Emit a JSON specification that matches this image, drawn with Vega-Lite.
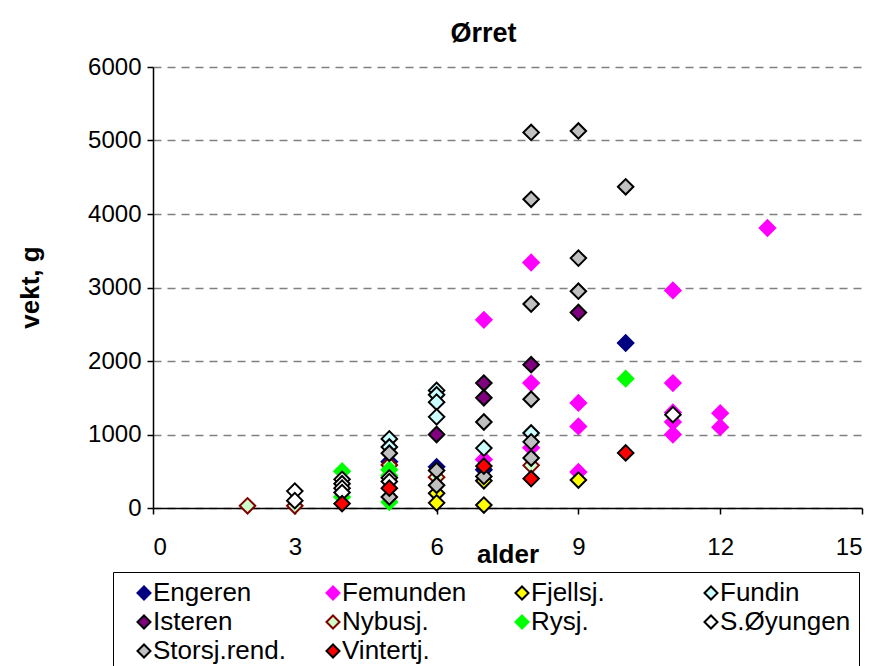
{
  "$schema": "https://vega.github.io/schema/vega-lite/v6.json",
  "width": 709,
  "height": 441,
  "autosize": {"type": "none"},
  "padding": {"left": 153, "top": 67, "right": 25, "bottom": 158},
  "background": "white",
  "title": {"text": "Ørret", "font": "Liberation Sans", "fontSize": 27, "fontWeight": "bold", "color": "black", "dx": -24, "offset": 7},
  "config": {
    "view": {"stroke": null},
    "font": "Liberation Sans"
  },
  "data": {
    "values": [
      {"s": "Engeren", "alder": 5, "vekt": 630},
      {"s": "Engeren", "alder": 6, "vekt": 560},
      {"s": "Engeren", "alder": 7, "vekt": 520},
      {"s": "Engeren", "alder": 10, "vekt": 2245},
      {"s": "Femunden", "alder": 7, "vekt": 2560},
      {"s": "Femunden", "alder": 7, "vekt": 660},
      {"s": "Femunden", "alder": 8, "vekt": 3340},
      {"s": "Femunden", "alder": 8, "vekt": 1700},
      {"s": "Femunden", "alder": 8, "vekt": 820},
      {"s": "Femunden", "alder": 9, "vekt": 1430},
      {"s": "Femunden", "alder": 9, "vekt": 1110},
      {"s": "Femunden", "alder": 9, "vekt": 490},
      {"s": "Femunden", "alder": 11, "vekt": 2960},
      {"s": "Femunden", "alder": 11, "vekt": 1700},
      {"s": "Femunden", "alder": 11, "vekt": 1300},
      {"s": "Femunden", "alder": 11, "vekt": 1170},
      {"s": "Femunden", "alder": 11, "vekt": 1000},
      {"s": "Femunden", "alder": 12, "vekt": 1290},
      {"s": "Femunden", "alder": 12, "vekt": 1100},
      {"s": "Femunden", "alder": 13, "vekt": 3810},
      {"s": "Fjellsj.", "alder": 6, "vekt": 200},
      {"s": "Fjellsj.", "alder": 6, "vekt": 70},
      {"s": "Fjellsj.", "alder": 7, "vekt": 370},
      {"s": "Fjellsj.", "alder": 7, "vekt": 40},
      {"s": "Fjellsj.", "alder": 9, "vekt": 380},
      {"s": "Fundin", "alder": 5, "vekt": 940},
      {"s": "Fundin", "alder": 5, "vekt": 830},
      {"s": "Fundin", "alder": 6, "vekt": 1600},
      {"s": "Fundin", "alder": 6, "vekt": 1540},
      {"s": "Fundin", "alder": 6, "vekt": 1440},
      {"s": "Fundin", "alder": 6, "vekt": 1240},
      {"s": "Fundin", "alder": 7, "vekt": 815},
      {"s": "Fundin", "alder": 8, "vekt": 1020},
      {"s": "Isteren", "alder": 6, "vekt": 1000},
      {"s": "Isteren", "alder": 7, "vekt": 1700},
      {"s": "Isteren", "alder": 7, "vekt": 1500},
      {"s": "Isteren", "alder": 8, "vekt": 1950},
      {"s": "Isteren", "alder": 9, "vekt": 2660},
      {"s": "Nybusj.", "alder": 2, "vekt": 30},
      {"s": "Nybusj.", "alder": 3, "vekt": 30},
      {"s": "Nybusj.", "alder": 5, "vekt": 585},
      {"s": "Nybusj.", "alder": 6, "vekt": 420},
      {"s": "Nybusj.", "alder": 8, "vekt": 580},
      {"s": "Rysj.", "alder": 4, "vekt": 500},
      {"s": "Rysj.", "alder": 4, "vekt": 150},
      {"s": "Rysj.", "alder": 5, "vekt": 520},
      {"s": "Rysj.", "alder": 5, "vekt": 440},
      {"s": "Rysj.", "alder": 5, "vekt": 80},
      {"s": "Rysj.", "alder": 10, "vekt": 1760},
      {"s": "S.Øyungen", "alder": 3, "vekt": 230},
      {"s": "S.Øyungen", "alder": 3, "vekt": 100},
      {"s": "S.Øyungen", "alder": 4, "vekt": 390},
      {"s": "S.Øyungen", "alder": 4, "vekt": 330},
      {"s": "S.Øyungen", "alder": 4, "vekt": 270},
      {"s": "S.Øyungen", "alder": 4, "vekt": 210},
      {"s": "S.Øyungen", "alder": 5, "vekt": 410},
      {"s": "S.Øyungen", "alder": 5, "vekt": 360},
      {"s": "S.Øyungen", "alder": 11, "vekt": 1270},
      {"s": "Storsj.rend.", "alder": 5, "vekt": 745},
      {"s": "Storsj.rend.", "alder": 5, "vekt": 150},
      {"s": "Storsj.rend.", "alder": 6, "vekt": 510},
      {"s": "Storsj.rend.", "alder": 6, "vekt": 310},
      {"s": "Storsj.rend.", "alder": 7, "vekt": 1170},
      {"s": "Storsj.rend.", "alder": 7, "vekt": 430},
      {"s": "Storsj.rend.", "alder": 8, "vekt": 5110},
      {"s": "Storsj.rend.", "alder": 8, "vekt": 4200},
      {"s": "Storsj.rend.", "alder": 8, "vekt": 2775},
      {"s": "Storsj.rend.", "alder": 8, "vekt": 1480},
      {"s": "Storsj.rend.", "alder": 8, "vekt": 900},
      {"s": "Storsj.rend.", "alder": 8, "vekt": 680},
      {"s": "Storsj.rend.", "alder": 9, "vekt": 5130},
      {"s": "Storsj.rend.", "alder": 9, "vekt": 3400},
      {"s": "Storsj.rend.", "alder": 9, "vekt": 2950},
      {"s": "Storsj.rend.", "alder": 10, "vekt": 4370},
      {"s": "Vintertj.", "alder": 4, "vekt": 60},
      {"s": "Vintertj.", "alder": 5, "vekt": 270},
      {"s": "Vintertj.", "alder": 7, "vekt": 570},
      {"s": "Vintertj.", "alder": 8, "vekt": 400},
      {"s": "Vintertj.", "alder": 10, "vekt": 750}
    ]
  },
  "mark": {"type": "point", "shape": "diamond", "filled": true, "size": 240, "strokeWidth": 2, "opacity": 1},
  "encoding": {
    "x": {
      "field": "alder", "type": "quantitative",
      "scale": {"domain": [0, 15], "nice": false, "zero": true},
      "axis": {
        "values": [0, 3, 6, 9, 12, 15], "grid": false,
        "domainColor": "black", "domainWidth": 1.5,
        "tickColor": "black", "tickSize": 6, "tickWidth": 1.5,
        "labelFont": "Liberation Sans", "labelFontSize": 24, "labelColor": "black", "labelPadding": 21,
        "title": "alder", "titleFont": "Liberation Sans", "titleFontSize": 26, "titleFontWeight": "bold", "titleColor": "black",
        "titleY": 54, "titleBaseline": "alphabetic"
      }
    },
    "y": {
      "field": "vekt", "type": "quantitative",
      "scale": {"domain": [0, 6000], "nice": false},
      "axis": {
        "values": [0, 1000, 2000, 3000, 4000, 5000, 6000], "format": "d",
        "grid": true, "gridColor": "#808080", "gridDash": [8, 6], "gridWidth": 1.5,
        "domainColor": "black", "domainWidth": 1.5,
        "tickColor": "black", "tickSize": 6, "tickWidth": 1.5,
        "labelFont": "Liberation Sans", "labelFontSize": 24, "labelColor": "black", "labelPadding": 6,
        "title": "vekt, g", "titleFont": "Liberation Sans", "titleFontSize": 26, "titleFontWeight": "bold", "titleColor": "black",
        "titleX": -123, "titleY": 220, "titleBaseline": "middle"
      }
    },
    "fill": {
      "field": "s", "type": "nominal",
      "scale": {
        "domain": ["Engeren", "Isteren", "S.Øyungen", "Femunden", "Nybusj.", "Storsj.rend.", "Fjellsj.", "Rysj.", "Vintertj.", "Fundin"],
        "range": ["#000080", "#800080", "#FFFFFF", "#FF00FF", "#CCFFCC", "#C0C0C0", "#FFFF00", "#00FF00", "#FF0000", "#CCFFFF"]
      },
      "legend": {
        "title": null, "orient": "none", "legendX": -40, "legendY": 505,
        "columns": 4, "gridAlign": "all", "columnPadding": 24, "rowPadding": 3,
        "symbolType": "diamond", "symbolSize": 170, "symbolStrokeWidth": 2,
        "labelFont": "Liberation Sans", "labelFontSize": 26, "labelColor": "black", "labelOffset": -4,
        "padding": 8, "symbolOffset": 10,
        "strokeColor": "#000000", "fillColor": "white",
        "encode": {"symbols": {"update": {"stroke": {"scale": "stroke", "field": "value"}}}}
      }
    },
    "stroke": {
      "field": "s", "type": "nominal",
      "scale": {
        "domain": ["Engeren", "Isteren", "S.Øyungen", "Femunden", "Nybusj.", "Storsj.rend.", "Fjellsj.", "Rysj.", "Vintertj.", "Fundin"],
        "range": ["#000080", "#000000", "#000000", "#FF00FF", "#800000", "#000000", "#000000", "#00FF00", "#000000", "#000000"]
      },
      "legend": null
    }
  }
}
